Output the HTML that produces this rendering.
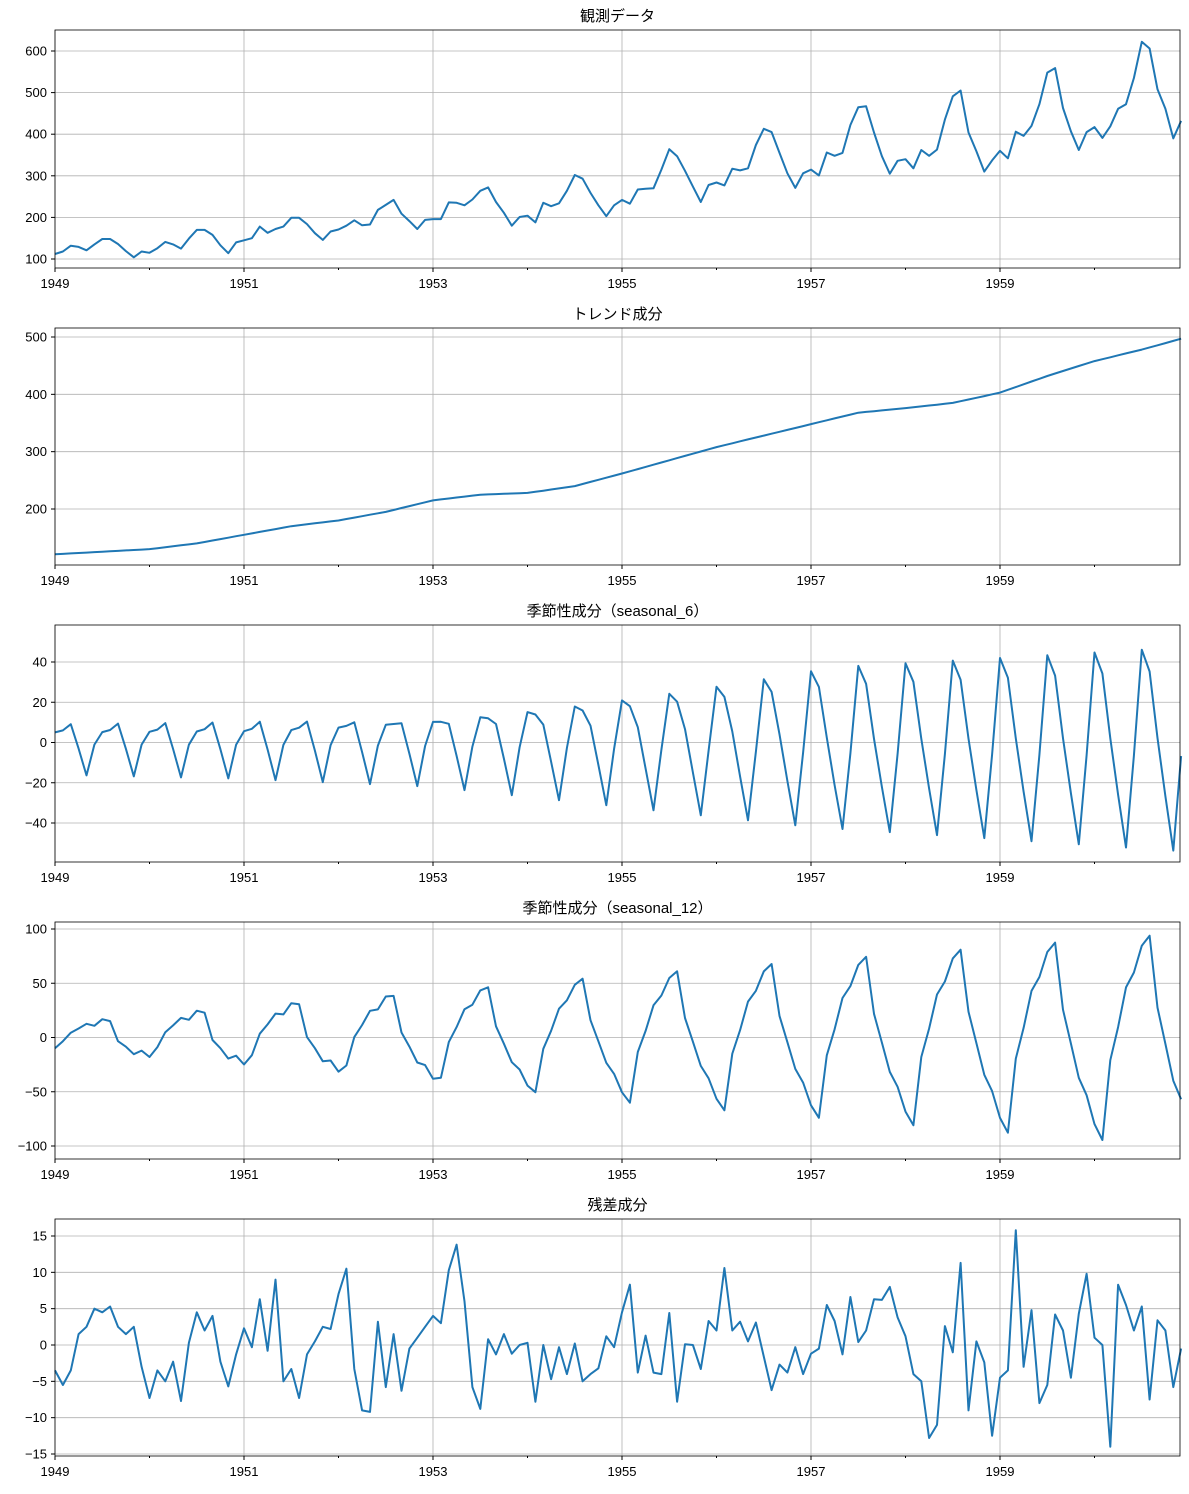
<!DOCTYPE html>
<html><head><meta charset="utf-8"><style>
body{margin:0;background:#fff}
svg text{font-family:"Liberation Sans","Noto Sans CJK JP",sans-serif;fill:#000}
</style></head><body>
<svg id="s" width="1189" height="1489" xmlns="http://www.w3.org/2000/svg"></svg>
<script>
const obs=[112,118,132,129,121,135,148,148,136,119,104,118,115,126,141,135,125,149,170,170,158,133,114,140,145,150,178,163,172,178,199,199,184,162,146,166,171,180,193,181,183,218,230,242,209,191,172,194,196,196,236,235,229,243,264,272,237,211,180,201,204,188,235,227,234,264,302,293,259,229,203,229,242,233,267,269,270,315,364,347,312,274,237,278,284,277,317,313,318,374,413,405,355,306,271,306,315,301,356,348,355,422,465,467,404,347,305,336,340,318,362,348,363,435,491,505,404,359,310,337,360,342,406,396,420,472,548,559,463,407,362,405,417,391,419,461,472,535,622,606,508,461,390,432];
function interp(tk,i){for(let k=0;k<tk.length-1;k++){if(i>=tk[k][0]&&i<=tk[k+1][0]){const t=(i-tk[k][0])/(tk[k+1][0]-tk[k][0]);return tk[k][1]+t*(tk[k+1][1]-tk[k][1]);}}return tk[tk.length-1][1];}
const tk=[[0,121],[12,130],[18,140],[24,155],[30,170],[36,180],[42,195],[48,215],[54,225],[60,228],[66,240],[72,262],[78,285],[84,308],[90,328],[96,348],[102,368],[108,376],[114,385],[120,403],[126,432],[132,458],[138,478],[143,497]];
const trend=[];for(let i=0;i<144;i++)trend[i]=interp(tk,i);
const amp6=[[0,16],[24,18],[48,22],[72,32],[96,42],[120,48],[143,54]];
const e6=[5,6,9,-3,-16,-1].map(v=>v/16),l6=[42,32,2,-24,-48,-6].map(v=>v/48);
const s6=[];for(let i=0;i<144;i++){const t=i/143,a=interp(amp6,i);const p=i%6;const w=Math.max(0,Math.min(1,(t-0.2)/0.5));s6[i]=a*((1-w)*e6[p]+w*l6[p]);}
const e12=[-10,-3,4,7,10,8,12,10,-3,-6,-10,-7].map(v=>v/12),l12=[-0.85,-1.0,-0.22,0.1,0.48,0.62,0.87,0.96,0.28,-0.06,-0.4,-0.57];
const s12=[];for(let i=0;i<144;i++){const t=i/143,a=12+88*Math.pow(t,0.9);const p=i%12;const w=Math.min(1,t*2.2);s12[i]=a*((1-w)*e12[p]+w*l12[p]);}
const res=[-3.5,-5.5,-3.5,1.5,2.5,5,4.5,5.3,2.5,1.5,2.5,-3,-7.3,-3.5,-5,-2.3,-7.7,0.3,4.5,2,4,-2.3,-5.7,-1.3,2.3,-0.3,6.3,-0.8,9,-5,-3.3,-7.3,-1.3,0.5,2.5,2.2,7,10.5,-3.3,-9,-9.2,3.2,-5.8,1.5,-6.3,-0.5,1,2.5,4,3,10.3,13.8,6,-5.8,-8.8,0.8,-1.3,1.5,-1.2,0,0.3,-7.8,0,-4.7,-0.3,-4,0.2,-5,-4,-3.2,1.2,-0.3,4.5,8.3,-3.8,1.3,-3.8,-4,4.4,-7.8,0.1,0,-3.3,3.3,2,10.6,2,3.2,0.5,3.1,-1.6,-6.2,-2.7,-3.8,-0.3,-4,-1.2,-0.5,5.5,3.3,-1.3,6.6,0.4,2,6.3,6.2,8,3.8,1.2,-4,-5,-12.8,-11,2.6,-1,11.3,-9,0.5,-2.4,-12.5,-4.5,-3.5,15.8,-3,4.8,-8,-5.5,4.2,2,-4.5,4.3,9.8,1,0,-14,8.3,5.5,2,5.3,-7.5,3.4,2,-5.8,-0.5];
const panels=[
 {title:"観測データ",top:30,bot:268,d:obs,v1:600,y1:51,v2:100,y2:259,ticks:[100,200,300,400,500,600]},
 {title:"トレンド成分",top:328,bot:565,d:trend,v1:500,y1:337,v2:200,y2:509,ticks:[200,300,400,500]},
 {title:"季節性成分（seasonal_6）",top:625,bot:862,d:s6,v1:40,y1:662,v2:-40,y2:823,ticks:[-40,-20,0,20,40]},
 {title:"季節性成分（seasonal_12）",top:922,bot:1159,d:s12,v1:100,y1:929,v2:-100,y2:1146,ticks:[-100,-50,0,50,100]},
 {title:"残差成分",top:1219,bot:1456,d:res,v1:15,y1:1236,v2:-15,y2:1454,ticks:[-15,-10,-5,0,5,10,15]}];
const L=55,R=1180,mx=i=>L+i*7.875;
let h='';
for(const p of panels){
 const fy=v=>p.y1+(v-p.v1)*(p.y2-p.y1)/(p.v2-p.v1);
 for(let y=0;y<6;y++){const x=L+y*189;h+=`<line x1="${x}" y1="${p.top}" x2="${x}" y2="${p.bot}" stroke="#b0b0b0" stroke-width="0.8"/>`;
  h+=`<line x1="${x}" y1="${p.bot}" x2="${x}" y2="${p.bot+4}" stroke="#000"/><text x="${x}" y="${p.bot+20}" font-size="13" text-anchor="middle">${1949+2*y}</text>`;
  const x2=x+94.5;if(x2<R)h+=`<line x1="${x2}" y1="${p.bot}" x2="${x2}" y2="${p.bot+2}" stroke="#000"/>`;}
 for(const t of p.ticks){const y=fy(t);h+=`<line x1="${L}" y1="${y}" x2="${R}" y2="${y}" stroke="#b0b0b0" stroke-width="0.8"/><line x1="${L-4}" y1="${y}" x2="${L}" y2="${y}" stroke="#000"/><text x="${L-8}" y="${y+4.5}" font-size="13" text-anchor="end">${t<0?'−'+(-t):t}</text>`;}
 h+=`<polyline fill="none" stroke="#1f77b4" stroke-width="2" stroke-linejoin="round" points="${p.d.map((v,i)=>mx(i).toFixed(1)+','+fy(v).toFixed(1)).join(' ')}"/>`;
 h+=`<rect x="${L}" y="${p.top}" width="${R-L}" height="${p.bot-p.top}" fill="none" stroke="#000" stroke-width="0.8"/>`;
 h+=`<text x="617.5" y="${p.top-9}" font-size="15" text-anchor="middle">${p.title}</text>`;
}
document.getElementById('s').innerHTML=h;
</script>
</body></html>
